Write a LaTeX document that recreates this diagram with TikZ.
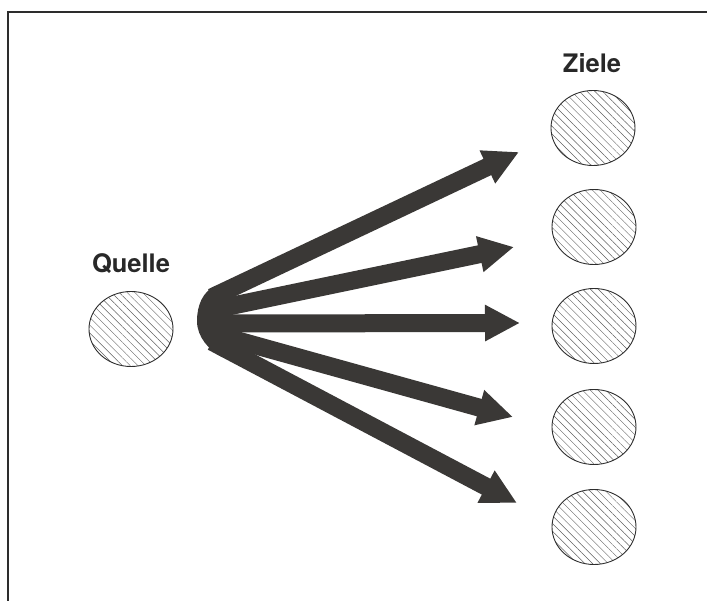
\documentclass[tikz,border=0pt]{standalone}
\usepackage{fontspec}
\setmainfont{TeX Gyre Heros}
\usetikzlibrary{arrows.meta,shapes.geometric,patterns.meta}
\definecolor{ink}{RGB}{58,56,54}
\definecolor{rim}{RGB}{45,45,45}
\definecolor{hatch}{RGB}{95,95,95}
\definecolor{txt}{RGB}{40,40,40}
\begin{document}
\begin{tikzpicture}[x=1pt,y=-1pt,
  frame/.style={line width=1.3pt, draw=rim},
  place/.style={ellipse, minimum width=84pt, minimum height=75pt, inner sep=0pt,
    draw=rim, line width=0.9pt,
    pattern={Lines[angle=-45,distance=5.5pt,line width=0.45pt]}, pattern color=hatch},
  caption/.style={font=\bfseries\fontsize{25.5}{30}\selectfont, text=txt, inner sep=0pt, anchor=base},
  flow/.style={draw=ink, line width=18pt, line cap=butt, -{Triangle[length=35pt,width=34pt]}},
]
\useasboundingbox (0,0) rectangle (707,601);

% open frame: top and left rule
\draw[frame] (8,601) -- (8,12) -- (707,12);

% source and targets
\node[place] (src) at (131,329) {};
\node[place] (t1) at (593,128) {};
\node[place] (t2) at (594,227) {};
\node[place] (t3) at (594,326) {};
\node[place] (t4) at (594,427) {};
\node[place] (t5) at (594,527) {};

\node[caption] (lsrc) at (131,273) {Quelle};
\node[caption] (ltgt) at (592,73) {Ziele};

% shaft start points inside the hub and arrow tips
\coordinate (s1) at (212,297.3);
\coordinate (s2) at (212,309.9);
\coordinate (s3) at (212,323.5);
\coordinate (s4) at (212,333.3);
\coordinate (s5) at (212,341.7);
\coordinate (e1) at (519,152);
\coordinate (e2) at (514,247);
\coordinate (e3) at (520,323);
\coordinate (e4) at (513,417);
\coordinate (e5) at (517,503);

% rounded hub where the shafts meet
\fill[ink] (215,286) .. controls (203,291.7) and (197,305) .. (197,321)
  .. controls (197,337) and (209,350.2) .. (222,357.1)
  -- (232,340) -- (232,305) -- cycle;

\draw[flow] (s1) -- (e1);
\draw[flow] (s2) -- (e2);
\draw[flow] (s3) -- (e3);
\draw[flow] (s4) -- (e4);
\draw[flow] (s5) -- (e5);
\end{tikzpicture}
\end{document}
